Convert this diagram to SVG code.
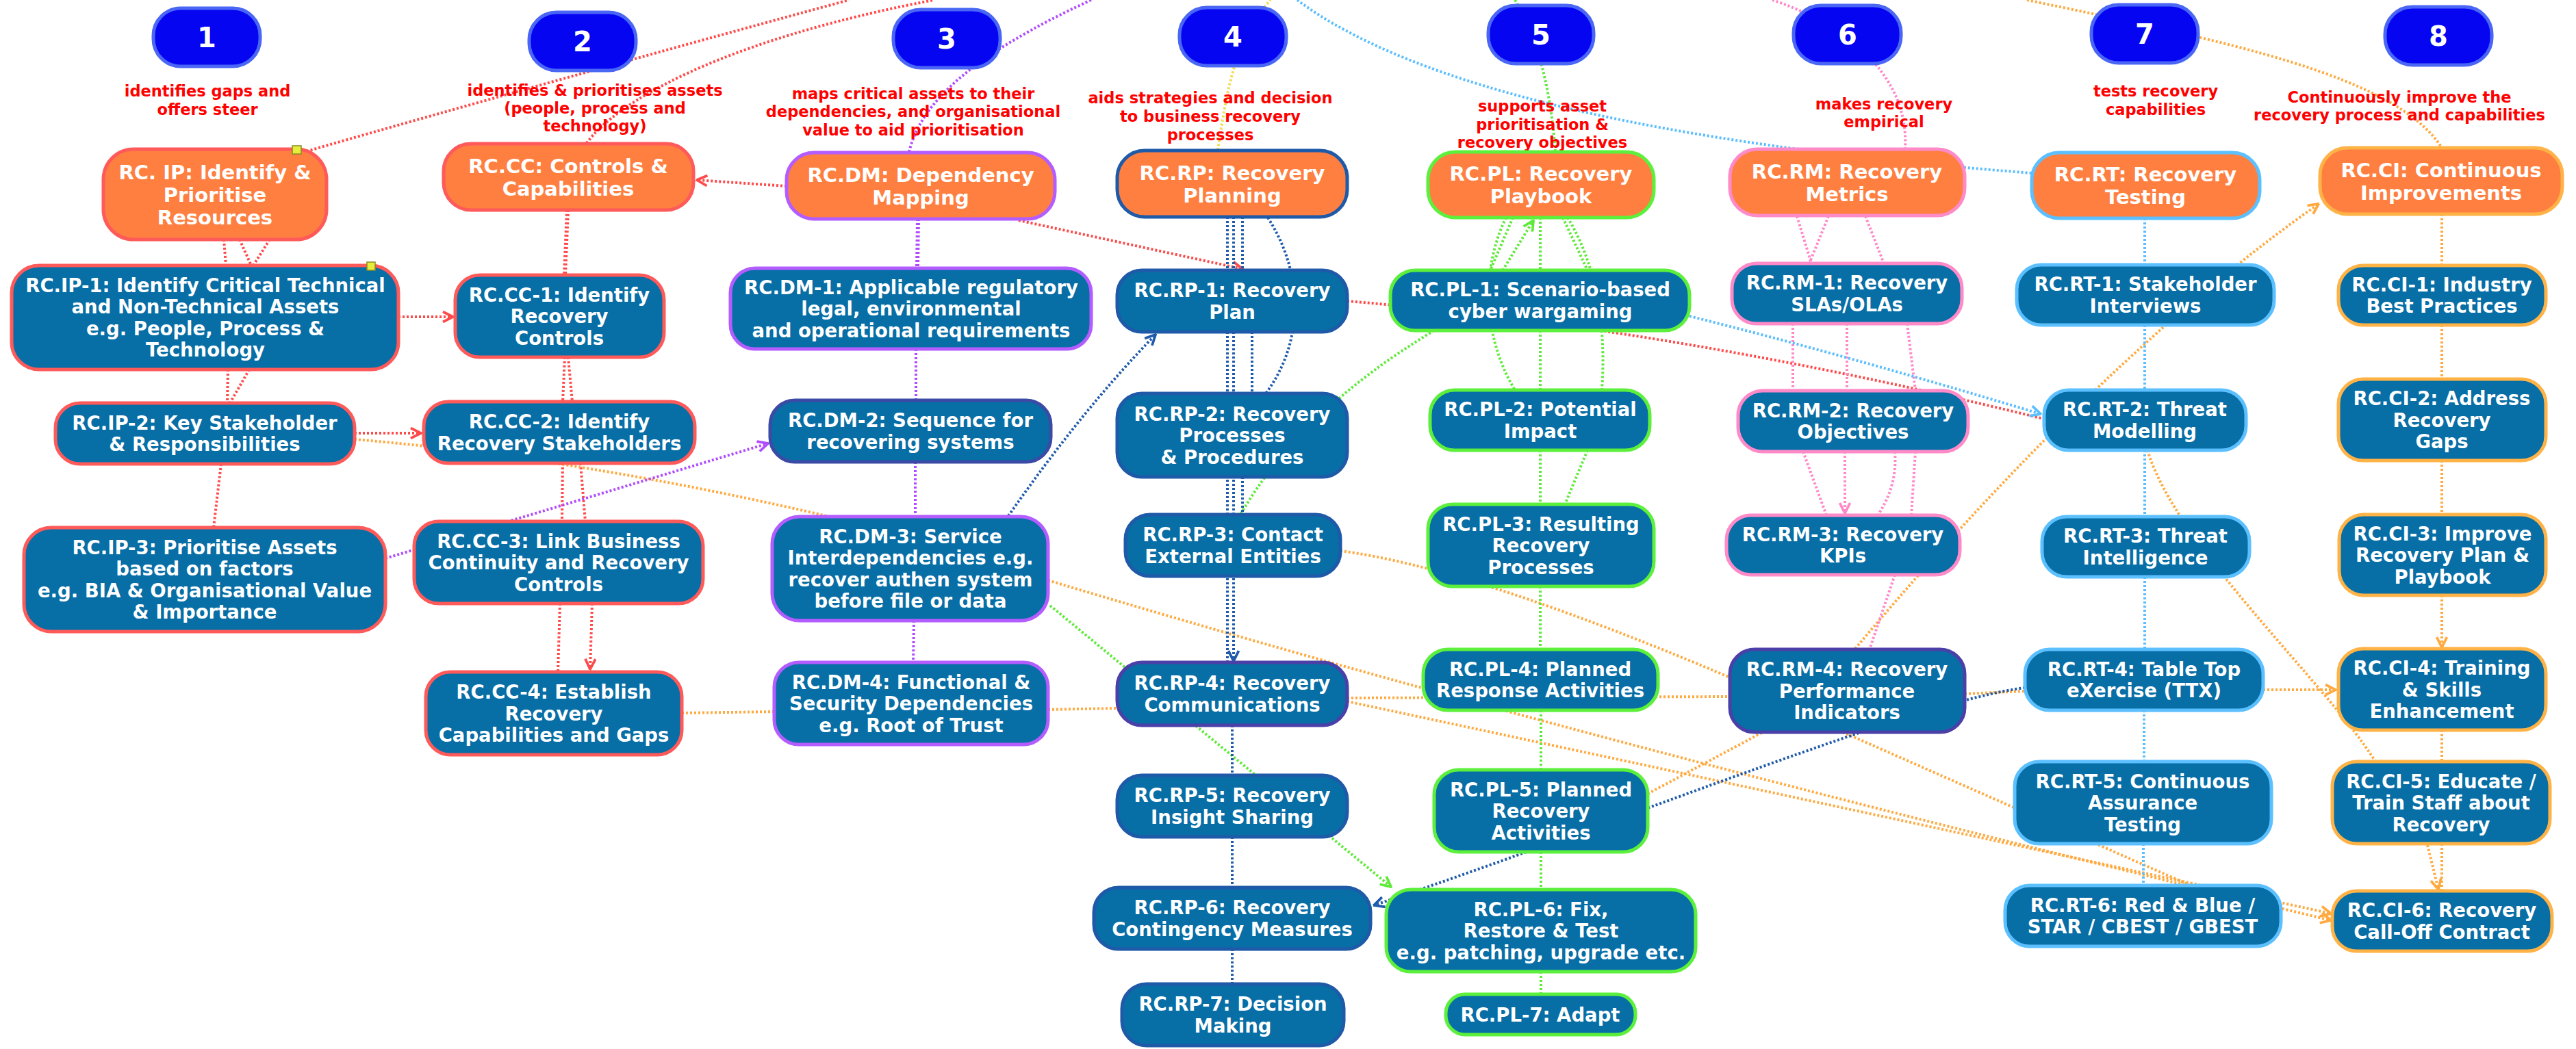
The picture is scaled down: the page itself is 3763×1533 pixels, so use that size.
<svg xmlns="http://www.w3.org/2000/svg" width="3763" height="1533" viewBox="0 0 3763 1533">
<style>
.bg{fill:#ffffff}
.badge{fill:#0505F2;stroke:#4A66F5;stroke-width:5}
.bn{font-family:"DejaVu Sans",sans-serif;font-weight:bold;font-size:40px;fill:#fff;text-anchor:middle}
.lbl{font-family:"DejaVu Sans",sans-serif;font-weight:bold;font-size:22.5px;fill:#FF0000;text-anchor:middle}
.o{fill:#FF7F41;stroke-width:5}
.c{fill:#076EA6;stroke-width:5}
.tt{font-family:"DejaVu Sans",sans-serif;font-weight:bold;font-size:29px;fill:#fff;text-anchor:middle}
.tc{font-family:"DejaVu Sans",sans-serif;font-weight:bold;font-size:27.5px;fill:#fff;text-anchor:middle}
.sr{stroke:#FF5A5A}.sp{stroke:#B35CFF}.sd{stroke:#1E5AA8}.sg{stroke:#5CF03C}.sk{stroke:#FF8AC8}.sl{stroke:#5CC0FF}.sa{stroke:#FFB347}.sv{stroke:#4B3FA8}
#connectors path{fill:none;stroke-width:4;stroke-dasharray:3 3}
.lr{stroke:#FF4A4A}.lo{stroke:#FFAA40}.lp{stroke:#B04BFF}.lg{stroke:#5FEA3A}.ld{stroke:#1F5BAA}.ll{stroke:#5BBEFF}.lk{stroke:#FF88C8}.ly{stroke:#F2DC55}
.hd{fill:#E6EE3C;stroke:#8a8a20;stroke-width:1.5}
</style>
<defs>
<marker id="ar" viewBox="0 0 12 12" refX="11" refY="6" markerWidth="18" markerHeight="18" orient="auto" markerUnits="userSpaceOnUse"><path d="M1,1 L11,6 L1,11" fill="none" stroke="#FF4A4A" stroke-width="2.5"/></marker>
<marker id="ao" viewBox="0 0 12 12" refX="11" refY="6" markerWidth="18" markerHeight="18" orient="auto" markerUnits="userSpaceOnUse"><path d="M1,1 L11,6 L1,11" fill="none" stroke="#FFAA40" stroke-width="2.5"/></marker>
<marker id="ap" viewBox="0 0 12 12" refX="11" refY="6" markerWidth="18" markerHeight="18" orient="auto" markerUnits="userSpaceOnUse"><path d="M1,1 L11,6 L1,11" fill="none" stroke="#B04BFF" stroke-width="2.5"/></marker>
<marker id="ag" viewBox="0 0 12 12" refX="11" refY="6" markerWidth="18" markerHeight="18" orient="auto" markerUnits="userSpaceOnUse"><path d="M1,1 L11,6 L1,11" fill="none" stroke="#5FEA3A" stroke-width="2.5"/></marker>
<marker id="ad" viewBox="0 0 12 12" refX="11" refY="6" markerWidth="18" markerHeight="18" orient="auto" markerUnits="userSpaceOnUse"><path d="M1,1 L11,6 L1,11" fill="none" stroke="#1F5BAA" stroke-width="2.5"/></marker>
<marker id="al" viewBox="0 0 12 12" refX="11" refY="6" markerWidth="18" markerHeight="18" orient="auto" markerUnits="userSpaceOnUse"><path d="M1,1 L11,6 L1,11" fill="none" stroke="#5BBEFF" stroke-width="2.5"/></marker>
<marker id="ak" viewBox="0 0 12 12" refX="11" refY="6" markerWidth="18" markerHeight="18" orient="auto" markerUnits="userSpaceOnUse"><path d="M1,1 L11,6 L1,11" fill="none" stroke="#FF88C8" stroke-width="2.5"/></marker>
</defs>
<rect class="bg" x="0" y="0" width="3763" height="1533"/>

<g id="connectors">
<!-- top curves -->
<path class="lr" d="M448,221 Q800,120 1240,0"/>
<path class="lr" d="M857,209 C900,150 1050,60 1364,0"/>
<path class="lp" d="M1328,222 C1345,150 1420,80 1594,0"/>
<path class="ly" d="M1779,219 C1790,150 1800,60 1856,0"/>
<path class="lg" d="M2213,0 C2240,40 2265,120 2272,222"/>
<path class="lk" d="M2589,0 C2680,30 2790,100 2783,218"/>
<path class="ll" d="M1895,0 Q2150,190 2968,253"/>
<path class="lo" d="M2961,0 C3250,60 3500,110 3567,216"/>
<!-- red -->
<path class="lr" d="M327,350 L330,388"/>
<path class="lr" d="M350,350 L367,388"/>
<path class="lr" d="M394,350 L370,388"/>
<path class="lr" d="M333,540 L332,589"/>
<path class="lr" d="M364,540 L336,589"/>
<path class="lr" d="M323,678 L312,771"/>
<path class="lr" d="M582,463 L662,463" marker-end="url(#ar)"/>
<path class="lr" d="M518,633 L615,633" marker-end="url(#ar)"/>
<path class="lr" d="M829,307 L825,402" style="stroke-width:6"/>
<path class="lr" d="M825,522 L822,587"/>
<path class="lr" d="M830,522 L836,587"/>
<path class="lr" d="M822,677 L821,762"/>
<path class="lr" d="M848,677 L855,762"/>
<path class="lr" d="M818,882 L815,982"/>
<path class="lr" d="M865,882 L862,978" marker-end="url(#ar)"/>
<path class="lr" d="M1149,272 L1018,263" marker-end="url(#ar)"/>
<path class="lr" d="M1488,322 L1815,393" marker-end="url(#ar)"/>
<path class="lr" d="M1968,440 Q2450,480 2985,612"/>
<!-- orange -->
<path class="lo" d="M518,642 Q850,670 1216,756"/>
<path class="lo" d="M996,1042 L1131,1040"/>
<path class="lo" d="M1531,1037 L1632,1035"/>
<path class="lo" d="M1968,1020 L2527,1018"/>
<path class="lo" d="M2870,1014 L2958,1010"/>
<path class="lo" d="M3306,1008 L3412,1008" marker-end="url(#ao)"/>
<path class="lo" d="M1958,805 Q2150,830 2527,990"/>
<path class="lo" d="M1531,848 Q2300,1080 3405,1345" marker-end="url(#ao)"/>
<path class="lo" d="M1968,1025 Q2600,1160 3405,1335" marker-end="url(#ao)"/>
<path class="lo" d="M2692,1070 L3200,1294"/>
<path class="lo" d="M2407,1160 L2575,1070"/>
<path class="lo" d="M2710,948 Q3070,520 3387,298" marker-end="url(#ao)"/>
<path class="lo" d="M3137,658 C3180,800 3400,1000 3470,1113"/>
<path class="lo" d="M3567,313 L3567,388"/>
<path class="lo" d="M3567,475 L3567,554"/>
<path class="lo" d="M3567,673 L3567,752"/>
<path class="lo" d="M3567,870 L3567,946" marker-end="url(#ao)"/>
<path class="lo" d="M3567,1067 L3567,1113"/>
<path class="lo" d="M3567,1233 L3567,1302"/>
<path class="lo" d="M3546,1235 L3562,1300" marker-end="url(#ao)"/>
<!-- purple -->
<path class="lp" d="M1341,320 L1340,392" style="stroke-width:6"/>
<path class="lp" d="M1338,510 L1338,585"/>
<path class="lp" d="M1337,675 L1337,755"/>
<path class="lp" d="M1335,907 L1334,968"/>
<path class="lp" d="M563,816 L1122,648" marker-end="url(#ap)"/>
<!-- green -->
<path class="lg" d="M2210,318 L2177,395"/>
<path class="lg" d="M2250,318 L2250,395"/>
<path class="lg" d="M2283,318 L2319,395"/>
<path class="lg" d="M2195,395 L2240,322" marker-end="url(#ag)"/>
<path class="lg" d="M2200,318 C2160,400 2170,500 2213,570"/>
<path class="lg" d="M2290,318 C2340,400 2345,500 2340,570"/>
<path class="lg" d="M2250,483 L2250,570"/>
<path class="lg" d="M2250,658 L2250,737"/>
<path class="lg" d="M2319,658 L2286,737"/>
<path class="lg" d="M2250,857 L2250,949"/>
<path class="lg" d="M2251,1038 L2251,1125"/>
<path class="lg" d="M2251,1245 L2251,1300"/>
<path class="lg" d="M2251,1420 L2251,1453"/>
<path class="lg" d="M2095,483 Q1900,600 1812,752"/>
<path class="lg" d="M1534,885 L2032,1296" marker-end="url(#ag)"/>
<!-- dark blue -->
<path class="ld" d="M1793,317 L1793,968"/>
<path class="ld" d="M1802,317 L1802,966" marker-end="url(#ad)"/>
<path class="ld" d="M1815,317 L1815,395"/>
<path class="ld" d="M1829,485 L1829,575"/>
<path class="ld" d="M1815,697 L1815,752"/>
<path class="ld" d="M1852,318 C1905,400 1905,500 1849,575"/>
<path class="ld" d="M1800,1060 L1800,1133"/>
<path class="ld" d="M1800,1223 L1800,1297"/>
<path class="ld" d="M1800,1387 L1800,1438"/>
<path class="ld" d="M1473,754 Q1580,600 1688,489" marker-end="url(#ad)"/>
<path class="ld" d="M2958,1005 C2800,1025 2400,1190 2007,1323" marker-end="url(#ad)"/>
<!-- pink -->
<path class="lk" d="M2625,316 L2646,385"/>
<path class="lk" d="M2671,316 L2643,385"/>
<path class="lk" d="M2725,316 L2752,385"/>
<path class="lk" d="M2619,473 L2619,571"/>
<path class="lk" d="M2698,473 L2698,571"/>
<path class="lk" d="M2786,473 L2798,571"/>
<path class="lk" d="M2634,660 L2668,753"/>
<path class="lk" d="M2695,660 L2695,750" marker-end="url(#ak)"/>
<path class="lk" d="M2768,660 Q2772,710 2743,753"/>
<path class="lk" d="M2798,660 L2792,753"/>
<path class="lk" d="M2768,840 L2731,949"/>
<!-- light blue -->
<path class="ll" d="M3133,319 L3133,387"/>
<path class="ll" d="M3133,475 L3133,570"/>
<path class="ll" d="M3133,658 L3133,755"/>
<path class="ll" d="M3133,843 L3133,949"/>
<path class="ll" d="M3132,1038 L3132,1113"/>
<path class="ll" d="M3131,1233 L3131,1294"/>
<path class="ll" d="M2468,462 Q2700,520 2981,605" marker-end="url(#al)"/>
</g>

<g id="labels">
<text class="lbl" x="303" y="141">identifies gaps and</text>
<text class="lbl" x="303" y="168">offers steer</text>
<text class="lbl" x="869" y="140">identifies &amp; prioritises assets</text>
<text class="lbl" x="869" y="166">(people, process and</text>
<text class="lbl" x="869" y="192">technology)</text>
<text class="lbl" x="1334" y="145">maps critical assets to their</text>
<text class="lbl" x="1334" y="171">dependencies, and organisational</text>
<text class="lbl" x="1334" y="198">value to aid prioritisation</text>
<text class="lbl" x="1768" y="151">aids strategies and decision</text>
<text class="lbl" x="1768" y="178">to business recovery</text>
<text class="lbl" x="1768" y="205">processes</text>
<text class="lbl" x="2253" y="163">supports asset</text>
<text class="lbl" x="2253" y="190">prioritisation &amp;</text>
<text class="lbl" x="2253" y="216">recovery objectives</text>
<text class="lbl" x="2752" y="160">makes recovery</text>
<text class="lbl" x="2752" y="186">empirical</text>
<text class="lbl" x="3149" y="141">tests recovery</text>
<text class="lbl" x="3149" y="168">capabilities</text>
<text class="lbl" x="3505" y="150">Continuously improve the</text>
<text class="lbl" x="3505" y="176">recovery process and capabilities</text>
</g>

<g id="badge-1"><rect class="badge" x="224" y="12" width="156" height="85" rx="40"/><text class="bn" x="302" y="69">1</text></g>
<g id="badge-2"><rect class="badge" x="773" y="18" width="156" height="85" rx="40"/><text class="bn" x="851" y="75">2</text></g>
<g id="badge-3"><rect class="badge" x="1305" y="14" width="156" height="85" rx="40"/><text class="bn" x="1383" y="71">3</text></g>
<g id="badge-4"><rect class="badge" x="1723" y="11" width="156" height="85" rx="40"/><text class="bn" x="1801" y="68">4</text></g>
<g id="badge-5"><rect class="badge" x="2174" y="8" width="154" height="85" rx="40"/><text class="bn" x="2251" y="65">5</text></g>
<g id="badge-6"><rect class="badge" x="2620" y="8" width="157" height="85" rx="40"/><text class="bn" x="2699" y="65">6</text></g>
<g id="badge-7"><rect class="badge" x="3055" y="7" width="156" height="85" rx="40"/><text class="bn" x="3133" y="64">7</text></g>
<g id="badge-8"><rect class="badge" x="3484" y="10" width="156" height="85" rx="40"/><text class="bn" x="3562" y="67">8</text></g>

<!-- top-level orange nodes -->
<g id="rc-ip"><rect class="o sr" x="151" y="218" width="326" height="132" rx="44"/><text class="tt" x="314" y="261.5">RC. IP: Identify &amp;</text><text class="tt" x="314" y="294.5">Prioritise</text><text class="tt" x="314" y="327.5">Resources</text><rect class="hd" x="427" y="213" width="13" height="12"/></g>
<g id="rc-cc"><rect class="o sr" x="648" y="210" width="365" height="97" rx="40"/><text class="tt" x="830" y="252.5">RC.CC: Controls &amp;</text><text class="tt" x="830" y="285.5">Capabilities</text></g>
<g id="rc-dm"><rect class="o sp" x="1149" y="223" width="392" height="97" rx="40"/><text class="tt" x="1345" y="265.5">RC.DM: Dependency</text><text class="tt" x="1345" y="298.5">Mapping</text></g>
<g id="rc-rp"><rect class="o sd" x="1632" y="220" width="336" height="97" rx="40"/><text class="tt" x="1800" y="262.5">RC.RP: Recovery</text><text class="tt" x="1800" y="295.5">Planning</text></g>
<g id="rc-pl"><rect class="o sg" x="2086" y="222" width="330" height="96" rx="40"/><text class="tt" x="2251" y="264">RC.PL: Recovery</text><text class="tt" x="2251" y="297">Playbook</text></g>
<g id="rc-rm"><rect class="o sk" x="2527" y="218" width="343" height="97" rx="40"/><text class="tt" x="2698" y="260.5">RC.RM: Recovery</text><text class="tt" x="2698" y="293.5">Metrics</text></g>
<g id="rc-rt"><rect class="o sl" x="2968" y="223" width="333" height="96" rx="40"/><text class="tt" x="3134" y="265">RC.RT: Recovery</text><text class="tt" x="3134" y="298">Testing</text></g>
<g id="rc-ci"><rect class="o sa" x="3389" y="216" width="354" height="97" rx="40"/><text class="tt" x="3566" y="258.5">RC.CI: Continuous</text><text class="tt" x="3566" y="291.5">Improvements</text></g>

<!-- IP -->
<g id="rc-ip-1"><rect class="c sr" x="17" y="388" width="565" height="152" rx="40"/><text class="tc" x="300" y="426.75">RC.IP-1: Identify Critical Technical</text><text class="tc" x="300" y="458.25">and Non-Technical Assets</text><text class="tc" x="300" y="489.75">e.g. People, Process &amp;</text><text class="tc" x="300" y="521.25">Technology</text><rect class="hd" x="536" y="383" width="12" height="12"/></g>
<g id="rc-ip-2"><rect class="c sr" x="81" y="589" width="437" height="89" rx="36"/><text class="tc" x="299" y="627.75">RC.IP-2: Key Stakeholder</text><text class="tc" x="299" y="659.25">&amp; Responsibilities</text></g>
<g id="rc-ip-3"><rect class="c sr" x="35" y="771" width="528" height="152" rx="40"/><text class="tc" x="299" y="809.75">RC.IP-3: Prioritise Assets</text><text class="tc" x="299" y="841.25">based on factors</text><text class="tc" x="299" y="872.75">e.g. BIA &amp; Organisational Value</text><text class="tc" x="299" y="904.25">&amp; Importance</text></g>
<!-- CC -->
<g id="rc-cc-1"><rect class="c sr" x="665" y="402" width="305" height="120" rx="36"/><text class="tc" x="817" y="440.5">RC.CC-1: Identify</text><text class="tc" x="817" y="472">Recovery</text><text class="tc" x="817" y="503.5">Controls</text></g>
<g id="rc-cc-2"><rect class="c sr" x="619" y="587" width="396" height="90" rx="36"/><text class="tc" x="817" y="626.25">RC.CC-2: Identify</text><text class="tc" x="817" y="657.75">Recovery Stakeholders</text></g>
<g id="rc-cc-3"><rect class="c sr" x="605" y="762" width="422" height="120" rx="36"/><text class="tc" x="816" y="800.5">RC.CC-3: Link Business</text><text class="tc" x="816" y="832">Continuity and Recovery</text><text class="tc" x="816" y="863.5">Controls</text></g>
<g id="rc-cc-4"><rect class="c sr" x="622" y="982" width="374" height="121" rx="36"/><text class="tc" x="809" y="1021">RC.CC-4: Establish</text><text class="tc" x="809" y="1052.5">Recovery</text><text class="tc" x="809" y="1084">Capabilities and Gaps</text></g>
<!-- DM -->
<g id="rc-dm-1"><rect class="c sp" x="1067" y="392" width="527" height="118" rx="36"/><text class="tc" x="1331" y="429.5">RC.DM-1: Applicable regulatory</text><text class="tc" x="1331" y="461">legal, environmental</text><text class="tc" x="1331" y="492.5">and operational requirements</text></g>
<g id="rc-dm-2"><rect class="c" style="stroke:#3B4BA5" x="1125" y="585" width="410" height="90" rx="36"/><text class="tc" x="1330" y="624.25">RC.DM-2: Sequence for</text><text class="tc" x="1330" y="655.75">recovering systems</text></g>
<g id="rc-dm-3"><rect class="c sp" x="1128" y="755" width="403" height="152" rx="40"/><text class="tc" x="1330" y="793.75">RC.DM-3: Service</text><text class="tc" x="1330" y="825.25">Interdependencies e.g.</text><text class="tc" x="1330" y="856.75">recover authen system</text><text class="tc" x="1330" y="888.25">before file or data</text></g>
<g id="rc-dm-4"><rect class="c sp" x="1131" y="968" width="400" height="120" rx="36"/><text class="tc" x="1331" y="1006.5">RC.DM-4: Functional &amp;</text><text class="tc" x="1331" y="1038">Security Dependencies</text><text class="tc" x="1331" y="1069.5">e.g. Root of Trust</text></g>
<!-- RP -->
<g id="rc-rp-1"><rect class="c sd" x="1632" y="395" width="336" height="90" rx="36"/><text class="tc" x="1800" y="434.25">RC.RP-1: Recovery</text><text class="tc" x="1800" y="465.75">Plan</text></g>
<g id="rc-rp-2"><rect class="c sd" x="1632" y="575" width="336" height="122" rx="36"/><text class="tc" x="1800" y="614.5">RC.RP-2: Recovery</text><text class="tc" x="1800" y="646">Processes</text><text class="tc" x="1800" y="677.5">&amp; Procedures</text></g>
<g id="rc-rp-3"><rect class="c sd" x="1644" y="752" width="314" height="90" rx="36"/><text class="tc" x="1801" y="791.25">RC.RP-3: Contact</text><text class="tc" x="1801" y="822.75">External Entities</text></g>
<g id="rc-rp-4"><rect class="c sv" x="1632" y="968" width="336" height="92" rx="36"/><text class="tc" x="1800" y="1008.25">RC.RP-4: Recovery</text><text class="tc" x="1800" y="1039.75">Communications</text></g>
<g id="rc-rp-5"><rect class="c sd" x="1632" y="1133" width="336" height="90" rx="36"/><text class="tc" x="1800" y="1172.25">RC.RP-5: Recovery</text><text class="tc" x="1800" y="1203.75">Insight Sharing</text></g>
<g id="rc-rp-6"><rect class="c sd" x="1598" y="1297" width="404" height="90" rx="36"/><text class="tc" x="1800" y="1336.25">RC.RP-6: Recovery</text><text class="tc" x="1800" y="1367.75">Contingency Measures</text></g>
<g id="rc-rp-7"><rect class="c sd" x="1639" y="1438" width="324" height="90" rx="36"/><text class="tc" x="1801" y="1477.25">RC.RP-7: Decision</text><text class="tc" x="1801" y="1508.75">Making</text></g>
<!-- PL -->
<g id="rc-pl-1"><rect class="c sg" x="2031" y="395" width="437" height="88" rx="36"/><text class="tc" x="2250" y="433.25">RC.PL-1: Scenario-based</text><text class="tc" x="2250" y="464.75">cyber wargaming</text></g>
<g id="rc-pl-2"><rect class="c sg" x="2089" y="570" width="321" height="88" rx="36"/><text class="tc" x="2250" y="608.25">RC.PL-2: Potential</text><text class="tc" x="2250" y="639.75">Impact</text></g>
<g id="rc-pl-3"><rect class="c sg" x="2086" y="737" width="330" height="120" rx="36"/><text class="tc" x="2251" y="775.5">RC.PL-3: Resulting</text><text class="tc" x="2251" y="807">Recovery</text><text class="tc" x="2251" y="838.5">Processes</text></g>
<g id="rc-pl-4"><rect class="c sg" x="2079" y="949" width="343" height="89" rx="36"/><text class="tc" x="2250" y="987.75">RC.PL-4: Planned</text><text class="tc" x="2250" y="1019.25">Response Activities</text></g>
<g id="rc-pl-5"><rect class="c sg" x="2095" y="1125" width="312" height="120" rx="36"/><text class="tc" x="2251" y="1163.5">RC.PL-5: Planned</text><text class="tc" x="2251" y="1195">Recovery</text><text class="tc" x="2251" y="1226.5">Activities</text></g>
<g id="rc-pl-6"><rect class="c sg" x="2025" y="1300" width="452" height="120" rx="36"/><text class="tc" x="2251" y="1338.5">RC.PL-6: Fix,</text><text class="tc" x="2251" y="1370">Restore &amp; Test</text><text class="tc" x="2251" y="1401.5">e.g. patching, upgrade etc.</text></g>
<g id="rc-pl-7"><rect class="c sg" x="2112" y="1453" width="277" height="59" rx="28"/><text class="tc" x="2250" y="1492.5">RC.PL-7: Adapt</text></g>
<!-- RM -->
<g id="rc-rm-1"><rect class="c sk" x="2530" y="385" width="336" height="88" rx="36"/><text class="tc" x="2698" y="423.25">RC.RM-1: Recovery</text><text class="tc" x="2698" y="454.75">SLAs/OLAs</text></g>
<g id="rc-rm-2"><rect class="c sk" x="2539" y="571" width="336" height="89" rx="36"/><text class="tc" x="2707" y="609.75">RC.RM-2: Recovery</text><text class="tc" x="2707" y="641.25">Objectives</text></g>
<g id="rc-rm-3"><rect class="c sk" x="2522" y="753" width="341" height="87" rx="36"/><text class="tc" x="2692" y="790.75">RC.RM-3: Recovery</text><text class="tc" x="2692" y="822.25">KPIs</text></g>
<g id="rc-rm-4"><rect class="c sv" x="2527" y="949" width="343" height="121" rx="36"/><text class="tc" x="2698" y="988">RC.RM-4: Recovery</text><text class="tc" x="2698" y="1019.5">Performance</text><text class="tc" x="2698" y="1051">Indicators</text></g>
<!-- RT -->
<g id="rc-rt-1"><rect class="c sl" x="2946" y="387" width="376" height="88" rx="36"/><text class="tc" x="3134" y="425.25">RC.RT-1: Stakeholder</text><text class="tc" x="3134" y="456.75">Interviews</text></g>
<g id="rc-rt-2"><rect class="c sl" x="2986" y="570" width="295" height="88" rx="36"/><text class="tc" x="3133" y="608.25">RC.RT-2: Threat</text><text class="tc" x="3133" y="639.75">Modelling</text></g>
<g id="rc-rt-3"><rect class="c sl" x="2983" y="755" width="303" height="88" rx="36"/><text class="tc" x="3134" y="793.25">RC.RT-3: Threat</text><text class="tc" x="3134" y="824.75">Intelligence</text></g>
<g id="rc-rt-4"><rect class="c sl" x="2958" y="949" width="348" height="89" rx="36"/><text class="tc" x="3132" y="987.75">RC.RT-4: Table Top</text><text class="tc" x="3132" y="1019.25">eXercise (TTX)</text></g>
<g id="rc-rt-5"><rect class="c sl" x="2943" y="1113" width="375" height="120" rx="36"/><text class="tc" x="3130" y="1151.5">RC.RT-5: Continuous</text><text class="tc" x="3130" y="1183">Assurance</text><text class="tc" x="3130" y="1214.5">Testing</text></g>
<g id="rc-rt-6"><rect class="c sl" x="2929" y="1294" width="403" height="89" rx="36"/><text class="tc" x="3130" y="1332.75">RC.RT-6: Red &amp; Blue /</text><text class="tc" x="3130" y="1364.25">STAR / CBEST / GBEST</text></g>
<!-- CI -->
<g id="rc-ci-1"><rect class="c sa" x="3416" y="388" width="303" height="87" rx="36"/><text class="tc" x="3567" y="425.75">RC.CI-1: Industry</text><text class="tc" x="3567" y="457.25">Best Practices</text></g>
<g id="rc-ci-2"><rect class="c sa" x="3416" y="554" width="303" height="119" rx="36"/><text class="tc" x="3567" y="592">RC.CI-2: Address</text><text class="tc" x="3567" y="623.5">Recovery</text><text class="tc" x="3567" y="655">Gaps</text></g>
<g id="rc-ci-3"><rect class="c sa" x="3417" y="752" width="302" height="118" rx="36"/><text class="tc" x="3568" y="789.5">RC.CI-3: Improve</text><text class="tc" x="3568" y="821">Recovery Plan &amp;</text><text class="tc" x="3568" y="852.5">Playbook</text></g>
<g id="rc-ci-4"><rect class="c sa" x="3416" y="948" width="303" height="119" rx="36"/><text class="tc" x="3567" y="986">RC.CI-4: Training</text><text class="tc" x="3567" y="1017.5">&amp; Skills</text><text class="tc" x="3567" y="1049">Enhancement</text></g>
<g id="rc-ci-5"><rect class="c sa" x="3407" y="1113" width="318" height="120" rx="36"/><text class="tc" x="3566" y="1151.5">RC.CI-5: Educate /</text><text class="tc" x="3566" y="1183">Train Staff about</text><text class="tc" x="3566" y="1214.5">Recovery</text></g>
<g id="rc-ci-6"><rect class="c sa" x="3407" y="1302" width="321" height="88" rx="36"/><text class="tc" x="3567" y="1340.25">RC.CI-6: Recovery</text><text class="tc" x="3567" y="1371.75">Call-Off Contract</text></g>
</svg>
